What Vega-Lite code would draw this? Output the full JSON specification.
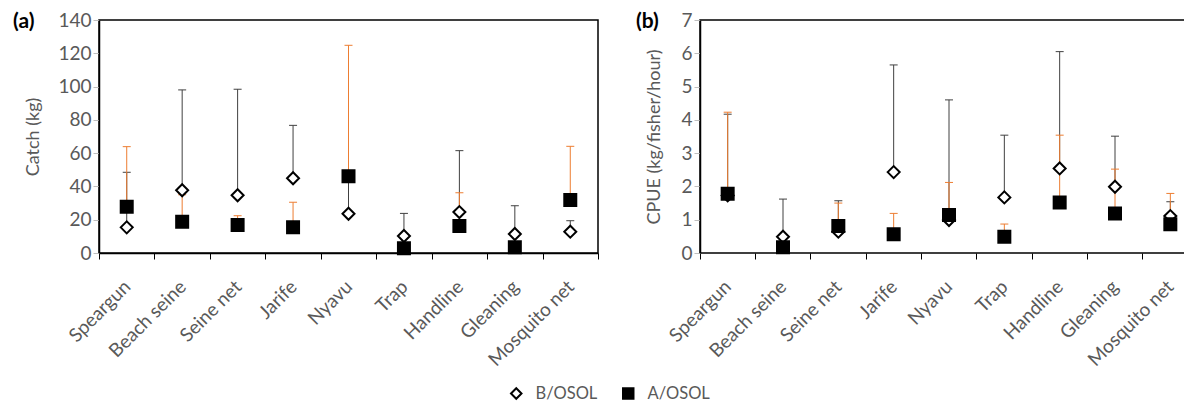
{
  "$schema": "https://vega.github.io/schema/vega-lite/v6.json",
  "autosize": {"type": "pad"},
  "padding": {"left": 12, "top": 10, "right": 0, "bottom": 0},
  "background": "white",
  "datasets": {
    "catch": [
      {"gear": "Speargun", "series": "B/OSOL", "mean": 15.4, "upper": 48.5},
      {"gear": "Beach seine", "series": "B/OSOL", "mean": 37.7, "upper": 98.0},
      {"gear": "Seine net", "series": "B/OSOL", "mean": 34.7, "upper": 98.4},
      {"gear": "Jarife", "series": "B/OSOL", "mean": 44.9, "upper": 76.7},
      {"gear": "Nyavu", "series": "B/OSOL", "mean": 23.6, "upper": 45.0},
      {"gear": "Trap", "series": "B/OSOL", "mean": 10.2, "upper": 23.8},
      {"gear": "Handline", "series": "B/OSOL", "mean": 24.6, "upper": 61.5},
      {"gear": "Gleaning", "series": "B/OSOL", "mean": 11.4, "upper": 28.4},
      {"gear": "Mosquito net", "series": "B/OSOL", "mean": 12.8, "upper": 19.4},
      {"gear": "Speargun", "series": "A/OSOL", "mean": 27.8, "upper": 63.9},
      {"gear": "Beach seine", "series": "A/OSOL", "mean": 18.8, "upper": 35.0},
      {"gear": "Seine net", "series": "A/OSOL", "mean": 16.8, "upper": 22.4},
      {"gear": "Jarife", "series": "A/OSOL", "mean": 15.4, "upper": 30.5},
      {"gear": "Nyavu", "series": "A/OSOL", "mean": 46.1, "upper": 124.8},
      {"gear": "Trap", "series": "A/OSOL", "mean": 2.8, "upper": 4.0},
      {"gear": "Handline", "series": "A/OSOL", "mean": 16.2, "upper": 36.2},
      {"gear": "Gleaning", "series": "A/OSOL", "mean": 3.4, "upper": 4.5},
      {"gear": "Mosquito net", "series": "A/OSOL", "mean": 31.8, "upper": 64.1}
    ],
    "cpue": [
      {"gear": "Speargun", "series": "B/OSOL", "mean": 1.73, "upper": 4.17},
      {"gear": "Beach seine", "series": "B/OSOL", "mean": 0.49, "upper": 1.62},
      {"gear": "Seine net", "series": "B/OSOL", "mean": 0.64, "upper": 1.57},
      {"gear": "Jarife", "series": "B/OSOL", "mean": 2.43, "upper": 5.65},
      {"gear": "Nyavu", "series": "B/OSOL", "mean": 0.99, "upper": 4.60},
      {"gear": "Trap", "series": "B/OSOL", "mean": 1.67, "upper": 3.54},
      {"gear": "Handline", "series": "B/OSOL", "mean": 2.54, "upper": 6.05},
      {"gear": "Gleaning", "series": "B/OSOL", "mean": 1.99, "upper": 3.51},
      {"gear": "Mosquito net", "series": "B/OSOL", "mean": 1.11, "upper": 1.54},
      {"gear": "Speargun", "series": "A/OSOL", "mean": 1.78, "upper": 4.23},
      {"gear": "Beach seine", "series": "A/OSOL", "mean": 0.17, "upper": 0.2},
      {"gear": "Seine net", "series": "A/OSOL", "mean": 0.81, "upper": 1.50},
      {"gear": "Jarife", "series": "A/OSOL", "mean": 0.56, "upper": 1.19},
      {"gear": "Nyavu", "series": "A/OSOL", "mean": 1.14, "upper": 2.12},
      {"gear": "Trap", "series": "A/OSOL", "mean": 0.49, "upper": 0.87},
      {"gear": "Handline", "series": "A/OSOL", "mean": 1.52, "upper": 3.54},
      {"gear": "Gleaning", "series": "A/OSOL", "mean": 1.19, "upper": 2.52},
      {"gear": "Mosquito net", "series": "A/OSOL", "mean": 0.86, "upper": 1.79}
    ]
  },
  "bounds": "flush",
  "spacing": 102,
  "resolve": {"scale": {"x": "independent", "y": "independent"}},
  "hconcat": [
    {
      "width": 499,
      "height": 233,
      "title": {"text": "(a)", "anchor": "start", "frame": "group", "orient": "top", "offset": 0, "dx": -86, "dy": 21, "fontSize": 21, "fontWeight": "bold", "color": "black", "font": "Lato"},
      "data": {"name": "catch"},
      "encoding": {
        "x": {"field": "gear", "type": "nominal",
              "sort": ["Speargun", "Beach seine", "Seine net", "Jarife", "Nyavu", "Trap", "Handline", "Gleaning", "Mosquito net"],
              "scale": {"paddingInner": 0, "paddingOuter": 0},
              "axis": {"title": null, "labelAngle": -45, "tickBand": "extent", "tickColor": "black", "tickSize": 6, "labelPadding": 18, "labelOffset": -6}},
        "y": {"field": "mean", "type": "quantitative", "scale": {"domain": [0, 140], "nice": false},
              "axis": {"title": "Catch (kg)", "values": [0, 20, 40, 60, 80, 100, 120, 140], "labelOverlap": false, "tickColor": "#bfbfbf", "tickSize": 6, "labelPadding": 2, "titlePadding": 15}}
      },
      "layer": [
        {"transform": [{"filter": "datum.series == 'B/OSOL'"}],
         "mark": {"type": "rule", "strokeWidth": 1, "color": "#404040"},
         "encoding": {"y2": {"field": "upper"}}},
        {"transform": [{"filter": "datum.series == 'B/OSOL'"}],
         "mark": {"type": "tick", "thickness": 1, "size": 8, "color": "#404040", "opacity": 1},
         "encoding": {"y": {"field": "upper", "type": "quantitative"}}},
        {"transform": [{"filter": "datum.series == 'A/OSOL'"}],
         "mark": {"type": "rule", "strokeWidth": 1, "color": "#ED7D31"},
         "encoding": {"y2": {"field": "upper"}}},
        {"transform": [{"filter": "datum.series == 'A/OSOL'"}],
         "mark": {"type": "tick", "thickness": 1, "size": 8, "color": "#ED7D31", "opacity": 1},
         "encoding": {"y": {"field": "upper", "type": "quantitative"}}},
        {"mark": {"type": "point", "filled": true, "stroke": "black", "strokeWidth": 2, "size": 144, "opacity": 1},
         "encoding": {
           "stroke": {"value": "black"},
           "shape": {"field": "series", "type": "nominal", "title": null, "scale": {"domain": ["B/OSOL", "A/OSOL"], "range": ["diamond", "square"]},
                     "legend": {"orient": "none", "legendX": 409, "legendY": 365, "direction": "horizontal"}},
           "fill": {"field": "series", "type": "nominal", "title": null, "scale": {"domain": ["B/OSOL", "A/OSOL"], "range": ["white", "black"]},
                    "legend": {"orient": "none", "legendX": 409, "legendY": 365, "direction": "horizontal"}}
         }}
      ]
    },
    {
      "width": 485,
      "height": 233,
      "title": {"text": "(b)", "anchor": "start", "frame": "group", "orient": "top", "offset": 0, "dx": -64, "dy": 21, "fontSize": 21, "fontWeight": "bold", "color": "black", "font": "Lato"},
      "data": {"name": "cpue"},
      "encoding": {
        "x": {"field": "gear", "type": "nominal",
              "sort": ["Speargun", "Beach seine", "Seine net", "Jarife", "Nyavu", "Trap", "Handline", "Gleaning", "Mosquito net"],
              "scale": {"paddingInner": 0, "paddingOuter": 0, "range": [0, 498]},
              "axis": {"title": null, "labelAngle": -45, "bandPosition": 0, "domain": false, "tickColor": "black", "tickSize": 6, "labelPadding": 18, "labelOffset": -6}},
        "y": {"field": "mean", "type": "quantitative", "scale": {"domain": [0, 7], "nice": false},
              "axis": {"title": "CPUE (kg/fisher/hour)", "values": [0, 1, 2, 3, 4, 5, 6, 7], "labelOverlap": false, "tickColor": "#bfbfbf", "tickSize": 6, "labelPadding": 2, "titlePadding": 17}}
      },
      "layer": [
        {"transform": [{"filter": "datum.series == 'B/OSOL'"}],
         "mark": {"type": "rule", "strokeWidth": 1, "color": "#404040"},
         "encoding": {"y2": {"field": "upper"}}},
        {"transform": [{"filter": "datum.series == 'B/OSOL'"}],
         "mark": {"type": "tick", "thickness": 1, "size": 8, "color": "#404040", "opacity": 1},
         "encoding": {"y": {"field": "upper", "type": "quantitative"}}},
        {"transform": [{"filter": "datum.series == 'A/OSOL'"}],
         "mark": {"type": "rule", "strokeWidth": 1, "color": "#ED7D31"},
         "encoding": {"y2": {"field": "upper"}}},
        {"transform": [{"filter": "datum.series == 'A/OSOL'"}],
         "mark": {"type": "tick", "thickness": 1, "size": 8, "color": "#ED7D31", "opacity": 1},
         "encoding": {"y": {"field": "upper", "type": "quantitative"}}},
        {"mark": {"type": "point", "filled": true, "stroke": "black", "strokeWidth": 2, "size": 144, "opacity": 1},
         "encoding": {
           "stroke": {"value": "black"},
           "shape": {"field": "series", "type": "nominal", "title": null, "scale": {"domain": ["B/OSOL", "A/OSOL"], "range": ["diamond", "square"]}},
           "fill": {"field": "series", "type": "nominal", "title": null, "scale": {"domain": ["B/OSOL", "A/OSOL"], "range": ["white", "black"]}}
         }}
      ]
    }
  ],
  "config": {
    "font": "Lato",
    "view": {"stroke": "black", "strokeWidth": 1.5},
    "axis": {"labelFont": "Lato", "labelFontSize": 19, "labelColor": "#595959", "titleFont": "Lato", "titleFontSize": 18, "titleColor": "#595959", "titleFontWeight": "normal", "grid": false, "domainColor": "black", "domainWidth": 1.5},
    "legend": {"labelFont": "Lato", "labelFontSize": 16.5, "labelColor": "#595959", "symbolStrokeWidth": 2, "symbolSize": 110, "labelOffset": 11, "columnPadding": 21, "padding": 0}
  }
}
